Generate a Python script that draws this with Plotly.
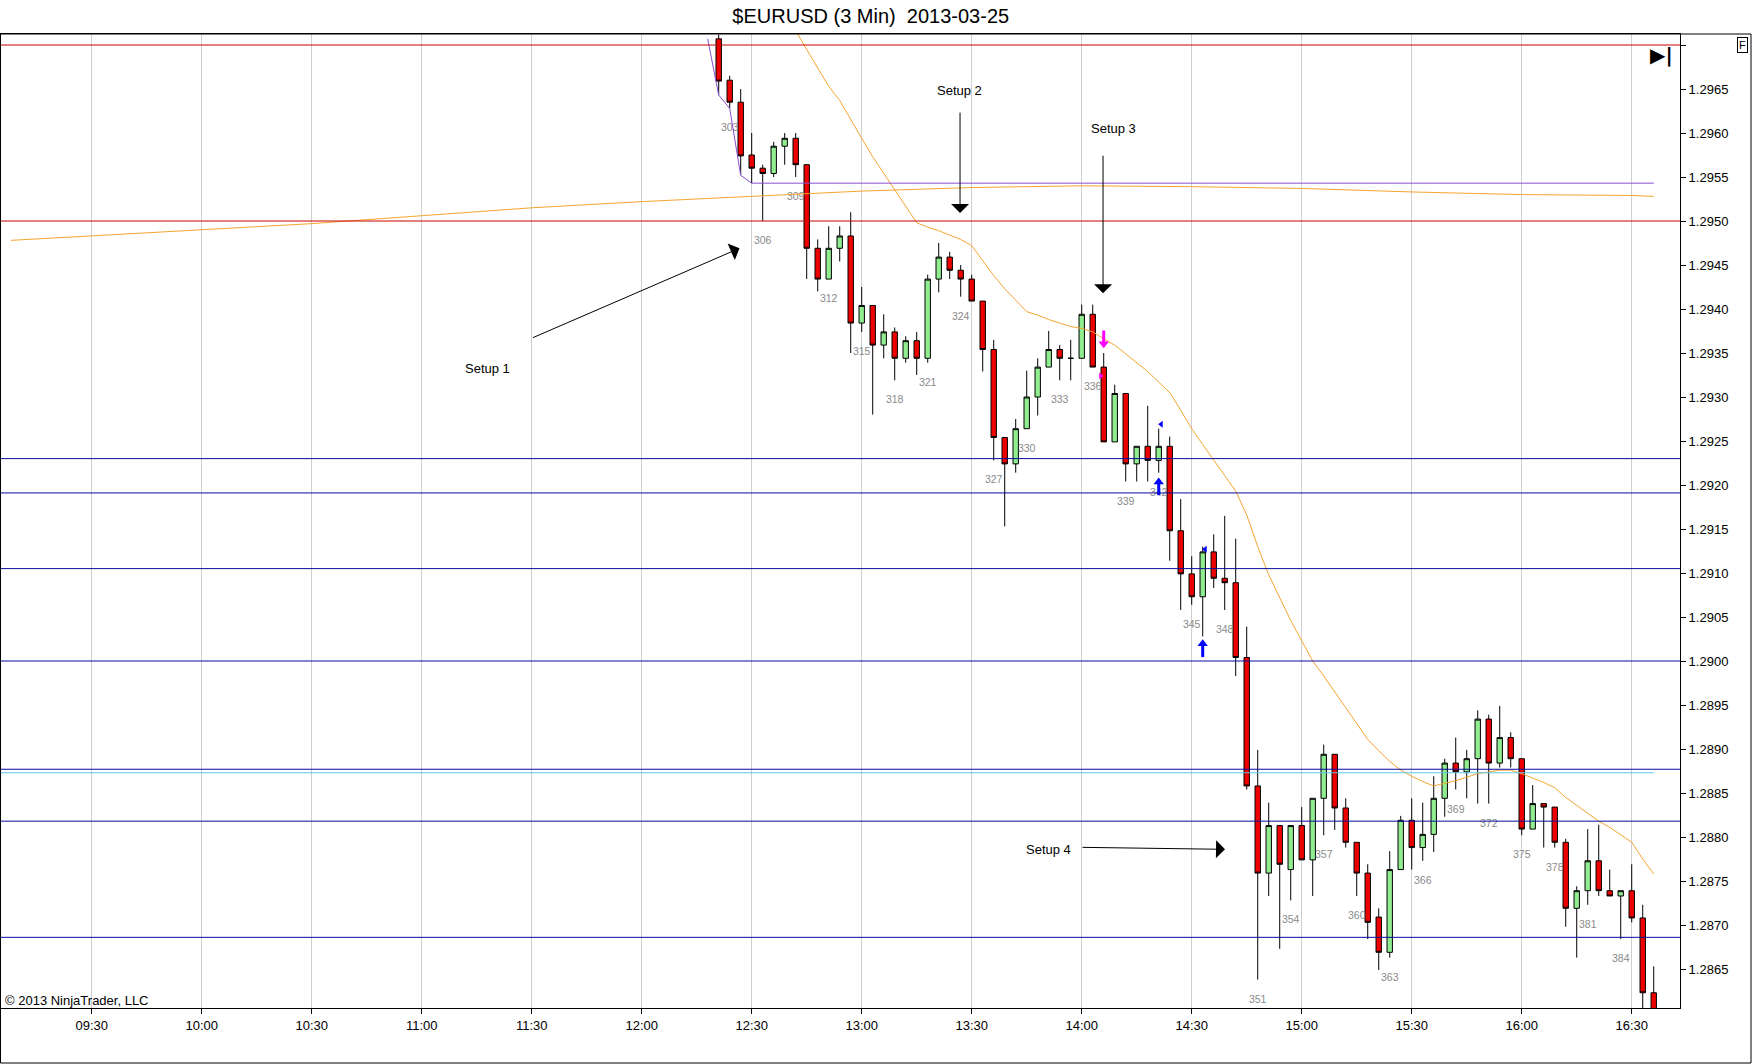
import plotly.graph_objects as go

day = "2013-03-25 "

# 3 minute bars that are visible on the chart (bar close time)
bar_times = [
    "12:21", "12:24", "12:27", "12:30", "12:33", "12:36", "12:39", "12:42", "12:45", "12:48",
    "12:51", "12:54", "12:57", "13:00", "13:03", "13:06", "13:09", "13:12", "13:15", "13:18",
    "13:21", "13:24", "13:27", "13:30", "13:33", "13:36", "13:39", "13:42", "13:45", "13:48",
    "13:51", "13:54", "13:57", "14:00", "14:03", "14:06", "14:09", "14:12", "14:15", "14:18",
    "14:21", "14:24", "14:27", "14:30", "14:33", "14:36", "14:39", "14:42", "14:45", "14:48",
    "14:51", "14:54", "14:57", "15:00", "15:03", "15:06", "15:09", "15:12", "15:15", "15:18",
    "15:21", "15:24", "15:27", "15:30", "15:33", "15:36", "15:39", "15:42", "15:45", "15:48",
    "15:51", "15:54", "15:57", "16:00", "16:03", "16:06", "16:09", "16:12", "16:15", "16:18",
    "16:21", "16:24", "16:27", "16:30", "16:33", "16:36",
]
opens = [
    1.29707, 1.29660, 1.29635, 1.29575, 1.29560, 1.29554, 1.29585, 1.29594, 1.29564, 1.29469,
    1.29434, 1.29469, 1.29483, 1.29384, 1.29404, 1.29359, 1.29374, 1.29344, 1.29364, 1.29344,
    1.29434, 1.29459, 1.29444, 1.29434, 1.29409, 1.29354, 1.29254, 1.29224, 1.29264, 1.29300,
    1.29334, 1.29354, 1.29344, 1.29344, 1.29394, 1.29334, 1.29249, 1.29304, 1.29224, 1.29244,
    1.29228, 1.29244, 1.29148, 1.29099, 1.29073, 1.29124, 1.29094, 1.29089, 1.29004, 1.28858,
    1.28759, 1.28813, 1.28763, 1.28813, 1.28774, 1.28844, 1.28894, 1.28833, 1.28794, 1.28759,
    1.28709, 1.28669, 1.28763, 1.28819, 1.28788, 1.28803, 1.28844, 1.28884, 1.28874, 1.28889,
    1.28934, 1.28884, 1.28913, 1.28889, 1.28809, 1.28838, 1.28834, 1.28794, 1.28719, 1.28739,
    1.28773, 1.28739, 1.28733, 1.28739, 1.28708, 1.28623,
]
highs = [
    1.29712, 1.29665, 1.29650, 1.29600, 1.29564, 1.29590, 1.29600, 1.29600, 1.29564, 1.29479,
    1.29494, 1.29494, 1.29510, 1.29425, 1.29404, 1.29394, 1.29379, 1.29369, 1.29374, 1.29439,
    1.29475, 1.29465, 1.29450, 1.29439, 1.29409, 1.29365, 1.29254, 1.29275, 1.29330, 1.29344,
    1.29375, 1.29359, 1.29365, 1.29405, 1.29405, 1.29350, 1.29314, 1.29304, 1.29244, 1.29290,
    1.29264, 1.29255, 1.29184, 1.29119, 1.29130, 1.29144, 1.29165, 1.29139, 1.29039, 1.28899,
    1.28839, 1.28813, 1.28813, 1.28834, 1.28844, 1.28905, 1.28894, 1.28844, 1.28794, 1.28769,
    1.28719, 1.28784, 1.28824, 1.28844, 1.28839, 1.28869, 1.28889, 1.28913, 1.28899, 1.28944,
    1.28939, 1.28949, 1.28919, 1.28889, 1.28859, 1.28838, 1.28834, 1.28798, 1.28744, 1.28809,
    1.28814, 1.28763, 1.28739, 1.28769, 1.28723, 1.28653,
]
lows = [
    1.29643, 1.29628, 1.29552, 1.29543, 1.29500, 1.29550, 1.29564, 1.29550, 1.29434, 1.29420,
    1.29434, 1.29454, 1.29350, 1.29374, 1.29280, 1.29344, 1.29319, 1.29339, 1.29325, 1.29339,
    1.29419, 1.29434, 1.29414, 1.29409, 1.29329, 1.29228, 1.29153, 1.29214, 1.29264, 1.29279,
    1.29334, 1.29319, 1.29319, 1.29344, 1.29334, 1.29249, 1.29249, 1.29204, 1.29204, 1.29204,
    1.29214, 1.29114, 1.29058, 1.29064, 1.29028, 1.29083, 1.29058, 1.28983, 1.28854, 1.28638,
    1.28733, 1.28673, 1.28728, 1.28774, 1.28733, 1.28802, 1.28808, 1.28788, 1.28733, 1.28684,
    1.28649, 1.28663, 1.28763, 1.28763, 1.28773, 1.28783, 1.28823, 1.28854, 1.28844, 1.28838,
    1.28838, 1.28879, 1.28879, 1.28802, 1.28809, 1.28788, 1.28788, 1.28698, 1.28663, 1.28723,
    1.28733, 1.28733, 1.28684, 1.28703, 1.28600, 1.28580,
]
closes = [
    1.29659, 1.29635, 1.29574, 1.29560, 1.29554, 1.29585, 1.29594, 1.29564, 1.29469, 1.29434,
    1.29469, 1.29483, 1.29384, 1.29404, 1.29359, 1.29374, 1.29344, 1.29364, 1.29344, 1.29434,
    1.29459, 1.29444, 1.29434, 1.29409, 1.29354, 1.29254, 1.29224, 1.29264, 1.29300, 1.29334,
    1.29354, 1.29344, 1.29344, 1.29394, 1.29334, 1.29249, 1.29304, 1.29224, 1.29244, 1.29228,
    1.29244, 1.29148, 1.29099, 1.29073, 1.29124, 1.29094, 1.29089, 1.29004, 1.28858, 1.28759,
    1.28813, 1.28769, 1.28813, 1.28774, 1.28844, 1.28894, 1.28833, 1.28794, 1.28759, 1.28703,
    1.28669, 1.28763, 1.28819, 1.28788, 1.28803, 1.28844, 1.28884, 1.28874, 1.28889, 1.28934,
    1.28884, 1.28913, 1.28889, 1.28809, 1.28838, 1.28834, 1.28794, 1.28719, 1.28739, 1.28773,
    1.28739, 1.28733, 1.28739, 1.28708, 1.28623, 1.28590,
]

# bar numbers printed under every third bar
label_times = [
    "12:24", "12:33", "12:42", "12:51", "13:00", "13:09", "13:18", "13:27", "13:36", "13:45",
    "13:54", "14:03", "14:12", "14:21", "14:30", "14:39", "14:48", "14:57", "15:06", "15:15",
    "15:24", "15:33", "15:42", "15:51", "16:00", "16:09", "16:18", "16:27",
]
label_numbers = [
    303, 306, 309, 312, 315, 318, 321, 324, 327, 330,
    333, 336, 339, 342, 345, 348, 351, 354, 357, 360,
    363, 366, 369, 372, 375, 378, 381, 384,
]

# fast EMA (from 12:39)
ema_values = [
    None, None, None, None, None, None,
    1.29737, 1.29716, 1.29695, 1.29674, 1.29653, 1.29637, 1.29615, 1.29594, 1.29573, 1.29554,
    1.29536, 1.29517, 1.29498, 1.29493, 1.29489, 1.29484, 1.29479, 1.29472, 1.29455, 1.29438,
    1.29423, 1.29410, 1.29397, 1.29393, 1.29388, 1.29384, 1.29380, 1.29378, 1.29374, 1.29366,
    1.29359, 1.29349, 1.29339, 1.29329, 1.29317, 1.29305, 1.29285, 1.29264, 1.29246, 1.29228,
    1.29210, 1.29193, 1.29166, 1.29130, 1.29098, 1.29071, 1.29046, 1.29023, 1.29000, 1.28983,
    1.28965, 1.28947, 1.28929, 1.28911, 1.28898, 1.28886, 1.28876, 1.28869, 1.28863, 1.28858,
    1.28861, 1.28864, 1.28868, 1.28872, 1.28874, 1.28876, 1.28876, 1.28872, 1.28867, 1.28862,
    1.28856, 1.28845, 1.28836, 1.28827, 1.28818, 1.28811, 1.28803, 1.28794, 1.28775, 1.28758,
]

# slow moving average across the whole session
slow_ma_times = [
    "09:08", "09:30", "10:00", "10:30", "11:00", "11:30", "12:00", "12:30", "13:00",
    "13:30", "14:00", "14:30", "15:00", "15:30", "16:00", "16:30", "16:36",
]
slow_ma_values = [
    1.29478, 1.29483, 1.29490, 1.29497, 1.29506, 1.29515, 1.29522, 1.29528, 1.29534,
    1.29538, 1.29540, 1.29539, 1.29537, 1.29533, 1.29530, 1.29529, 1.29528,
]

# purple low line
low_line_times = ["12:18", "12:21", "12:24", "12:27", "12:30", "16:36"]
low_line_values = [1.29707, 1.29643, 1.29628, 1.29552, 1.29543, 1.29543]

red_levels = [1.2970, 1.2950]
blue_levels = [1.29230, 1.29191, 1.29105, 1.29000, 1.28877, 1.28818, 1.28686]
cyan_level = 1.28873

# signal markers
sell_arrows_t = ["14:06:00"]
sell_arrows_y = [1.29365]
sell_flags_t = ["14:05:10"]
sell_flags_y = [1.29324]
buy_arrows_t = ["14:21:00", "14:33:00"]
buy_arrows_y = [1.29199, 1.29015]
buy_flags_t = ["14:21:40", "14:33:40"]
buy_flags_y = [1.29269, 1.29127]

# setup notes: text position, arrow tip, arrow tail offset in px
setups = [
    ("Setup 1", "11:17:49", 1.29332, "12:26:40", 1.29469, -208, 90),
    ("Setup 2", "13:26:41", 1.29648, "13:26:49", 1.29509, 0, -102),
    ("Setup 3", "14:08:44", 1.29605, "14:05:49", 1.29418, 0, -139),
    ("Setup 4", "13:50:49", 1.28786, "14:39:05", 1.28786, -144, -2),
]

y_ticks = [1.2865, 1.2870, 1.2875, 1.2880, 1.2885, 1.2890, 1.2895, 1.2900, 1.2905,
           1.2910, 1.2915, 1.2920, 1.2925, 1.2930, 1.2935, 1.2940, 1.2945, 1.2950,
           1.2955, 1.2960, 1.2965, 1.2970]
x_ticks = ["09:30", "10:00", "10:30", "11:00", "11:30", "12:00", "12:30", "13:00",
           "13:30", "14:00", "14:30", "15:00", "15:30", "16:00", "16:30"]

W, H = 1752, 1064
ML, MR, MT, MB = 1, 72, 34, 56
FONT = "Arial, Liberation Sans, sans-serif"
PIP_PX = 0.0001 / 8.8  # price per pixel on this y scale


def px_x(px):
    return (px - ML) / (W - ML - MR)


def px_y(py):
    return (H - MB - py) / (H - MT - MB)


t = lambda hm: day + hm
times = [t(s) for s in bar_times]
low_by_time = dict(zip(bar_times, lows))

fig = go.Figure()

# bar numbers (under the candles)
fig.add_scatter(
    x=[t(s) for s in label_times],
    y=[low_by_time[s] - 20.5 * PIP_PX for s in label_times],
    mode="text",
    text=[str(n) for n in label_numbers],
    textfont=dict(size=10.5, color="#8a8a8a", family=FONT),
    showlegend=False,
    hoverinfo="skip",
)

fig.add_scatter(
    x=[t(s) for s in slow_ma_times], y=slow_ma_values, mode="lines",
    line=dict(color="#f5a530", width=1), showlegend=False, hoverinfo="skip",
)
fig.add_scatter(
    x=times, y=ema_values, mode="lines",
    line=dict(color="#f5a530", width=1), showlegend=False, hoverinfo="skip",
)
fig.add_scatter(
    x=[t(s) for s in low_line_times], y=low_line_values, mode="lines",
    line=dict(color="#8a4fd0", width=1), showlegend=False, hoverinfo="skip",
)
fig.add_scatter(
    x=[t("09:05"), times[-1]], y=[cyan_level, cyan_level], mode="lines",
    line=dict(color="#5bc8e8", width=1), showlegend=False, hoverinfo="skip",
)

fig.add_candlestick(
    x=times, open=opens, high=highs, low=lows, close=closes,
    increasing=dict(fillcolor="#90ee90", line=dict(color="black", width=1)),
    decreasing=dict(fillcolor="#ee0000", line=dict(color="black", width=1)),
    showlegend=False, hoverinfo="skip",
)


def add_arrow(xs, ys, color, up):
    # arrow = triangle head + thick stem
    sign = 1 if up else -1
    fig.add_scatter(
        x=[t(s) for s in xs], y=[v + sign * 4 * PIP_PX for v in ys], mode="markers",
        marker=dict(symbol="triangle-up" if up else "triangle-down", size=9, color=color),
        showlegend=False, hoverinfo="skip",
    )
    fig.add_scatter(
        x=[t(s) for s in xs], y=[v - sign * 3 * PIP_PX for v in ys], mode="markers",
        marker=dict(symbol="line-ns", size=9, line=dict(color=color, width=3)),
        showlegend=False, hoverinfo="skip",
    )


add_arrow(sell_arrows_t, sell_arrows_y, "#ff00ff", up=False)
add_arrow(buy_arrows_t, buy_arrows_y, "#0000ff", up=True)
fig.add_scatter(
    x=[t(s) for s in sell_flags_t], y=sell_flags_y, mode="markers",
    marker=dict(symbol="triangle-right", size=6, color="#ff00ff"),
    showlegend=False, hoverinfo="skip",
)
fig.add_scatter(
    x=[t(s) for s in buy_flags_t], y=buy_flags_y, mode="markers",
    marker=dict(symbol="triangle-left", size=6, color="#0000ff"),
    showlegend=False, hoverinfo="skip",
)

for lvl in red_levels:
    fig.add_hline(y=lvl, line=dict(color="#c80000", width=1))
for lvl in blue_levels:
    fig.add_hline(y=lvl, line=dict(color="#0a0aa0", width=1))

for name, tx, ty, hx, hy, ax, ay in setups:
    fig.add_annotation(x=t(tx), y=ty, text=name, showarrow=False,
                       font=dict(size=13, color="black", family=FONT))
    fig.add_annotation(x=t(hx), y=hy, text="", showarrow=True, ax=ax, ay=ay,
                       arrowhead=1, arrowsize=3, arrowwidth=1, arrowcolor="black")

# copyright, F box and the "go to end" mark
fig.add_annotation(xref="paper", yref="paper", x=px_x(3), y=px_y(1000),
                   xanchor="left", yanchor="middle", showarrow=False,
                   text="© 2013 NinjaTrader, LLC",
                   font=dict(size=13, color="black", family=FONT))
fig.add_annotation(xref="paper", yref="paper", x=px_x(1742.5), y=px_y(45),
                   xanchor="center", yanchor="middle",
                   showarrow=False, text="F", bgcolor="white",
                   bordercolor="black", borderwidth=1, borderpad=1,
                   font=dict(size=11, color="black", family=FONT))
fig.add_annotation(xref="paper", yref="paper", x=px_x(1661), y=px_y(55),
                   xanchor="center", yanchor="middle",
                   showarrow=False, text="<b>▶|</b>",
                   font=dict(size=20, color="black", family="DejaVu Sans"))

# outer frame
fig.add_shape(type="rect", xref="paper", yref="paper",
              x0=px_x(0.5), x1=px_x(1751), y0=px_y(1063), y1=1,
              line=dict(color="black", width=1), layer="above")

fig.update_xaxes(
    type="date",
    range=[t("09:05:16"), t("16:43:10")],
    tickvals=[t(s) for s in x_ticks],
    ticktext=x_ticks,
    ticks="outside", ticklen=5, tickcolor="black",
    showgrid=True, gridcolor="#cfcfcf", gridwidth=1,
    showline=True, linecolor="black", linewidth=1, mirror=True,
    zeroline=False,
    rangeslider=dict(visible=False),
    tickfont=dict(size=13, color="black", family=FONT),
)
fig.update_yaxes(
    side="right",
    range=[1.286057, 1.297125],
    tickvals=y_ticks,
    ticktext=["%.4f" % v if v < 1.2968 else "" for v in y_ticks],
    ticks="outside", ticklen=5, tickcolor="black",
    showgrid=False, zeroline=False,
    showline=True, linecolor="black", linewidth=1, mirror=True,
    automargin=False,
    tickfont=dict(size=13, color="black", family=FONT),
)

fig.update_layout(
    width=W,
    height=H,
    margin=dict(l=ML, r=MR, t=MT, b=MB),
    paper_bgcolor="white",
    plot_bgcolor="white",
    font=dict(family=FONT, color="black"),
    title=dict(text="$EURUSD (3 Min)\u00a0 2013-03-25", x=0.497, y=1 - 16 / H,
               xanchor="center", yanchor="middle", xref="container", yref="container",
               font=dict(size=20, color="black", family=FONT)),
    hovermode=False,
    showlegend=False,
)

# page body has a default 8px margin; drop it so the chart sits at 0,0
fig.write_html(
    "out.html",
    config={"displayModeBar": False},
    post_script="document.body.style.margin='0';document.body.style.overflow='hidden';",
)
